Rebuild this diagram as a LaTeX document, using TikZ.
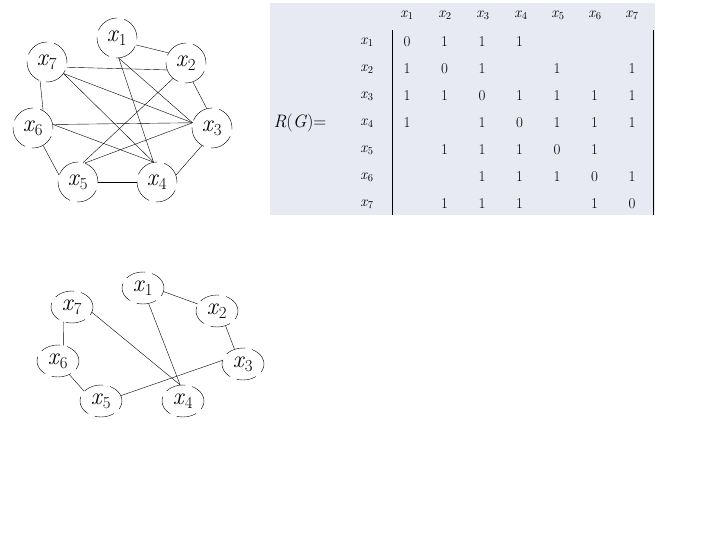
\documentclass[tikz,border=0pt]{standalone}
\usetikzlibrary{shapes.geometric}

\definecolor{tablebg}{RGB}{232,234,243}
\newcommand{\xv}[1]{\textit{x}\textsubscript{#1}}

\begin{document}
\begin{tikzpicture}[x=1pt, y=-1pt,
    vertex/.style={circle, draw, dash pattern=on 24pt off 7pt, minimum size=40pt, inner sep=0pt, font=\fontsize{24}{26}\selectfont},
    oval/.style={ellipse, draw, dash pattern=on 20pt off 7pt, minimum width=42pt, minimum height=32pt, inner sep=0pt, font=\fontsize{24}{26}\selectfont},
    cell/.style={font=\fontsize{15}{17}\selectfont}]

    \useasboundingbox (0,0) rectangle (720,540);

    % Graph G
    \node[vertex] (x1) at (117,38) {\xv{1}};
    \node[vertex] (x2) at (186,63) {\xv{2}};
    \node[vertex] (x3) at (212,128) {\xv{3}};
    \node[vertex] (x4) at (157,182) {\xv{4}};
    \node[vertex] (x5) at (78,182) {\xv{5}};
    \node[vertex] (x6) at (33,128) {\xv{6}};
    \node[vertex] (x7) at (47,62) {\xv{7}};

    % edges of G
    \draw (x1.-20) -- (x2.150);
    \draw (x1.-85) -- (x3.165);
    \draw (x1.-85) -- (x4.100);
    \draw (x2.-70) -- (x3.105);
    \draw (x2.-130) -- (x5.75);
    \draw (x7.-15) -- (x2.-160);
    \draw (x7.-35) -- (x3.165);
    \draw (x7.-35) -- (x4.100);
    \draw (x6.10) -- (x3.165);
    \draw (x6.10) -- (x4.100);
    \draw (x5.70) -- (x3.165);
    \draw (x3.-120) -- (x4.20);
    \draw (x5.0) -- (x4.180);
    \draw (x6.-60) -- (x5.160);
    \draw (x7.-110) -- (x6.60);

    % matrix R(G)
    \fill[tablebg] (270,3) rectangle (655,215);
    \draw (392,30) -- (392,215);
    \draw (653,30) -- (653,215);
    \node[font=\fontsize{18}{20}\selectfont] (rg) at (300,123) {\textit{R}(\textit{G})=};

    \foreach \i/\xc in {1/407,2/445,3/483,4/521,5/558,6/595,7/632}
        \node[cell] (c\i) at (\xc,15) {\xv{\i}};
    \foreach \i/\yr in {1/42,2/69,3/96,4/123,5/150,6/177,7/204}
        \node[cell] (r\i) at (367,\yr) {\xv{\i}};

    % rows
    \foreach \row/\yr/\vals in {1/42/{0,1,1,1,,,},
                                2/69/{1,0,1,,1,,1},
                                3/96/{1,1,0,1,1,1,1},
                                4/123/{1,,1,0,1,1,1},
                                5/150/{,1,1,1,0,1,},
                                6/177/{,,1,1,1,0,1},
                                7/204/{,1,1,1,,1,0}}
        \foreach \v [count=\j] in \vals
            \node[cell] (m\row\j) at (369.5+37.5*\j,\yr) {\v};

    % Subgraph
    \begin{scope}[shift={(0,0)}]
    \node[oval] (y1) at (143,288) {\xv{1}};
    \node[oval] (y2) at (217,311) {\xv{2}};
    \node[oval] (y3) at (243,364) {\xv{3}};
    \node[oval] (y4) at (183,401) {\xv{4}};
    \node[oval] (y5) at (101,401) {\xv{5}};
    \node[oval] (y6) at (58,361) {\xv{6}};
    \node[oval] (y7) at (72,307) {\xv{7}};

    \draw (y1.-10) -- (y2.160);
    \draw (y2.-60) -- (y3.120);
    \draw (y7.-120) -- (y6.70);
    \draw (y6.-50) -- (y5.150);
    \draw (y7.-15) -- (y4.100);
    \draw (y1.-70) -- (y4.100);
    \draw (y5.15) -- (y3.170);
    \end{scope}

\end{tikzpicture}
\end{document}
